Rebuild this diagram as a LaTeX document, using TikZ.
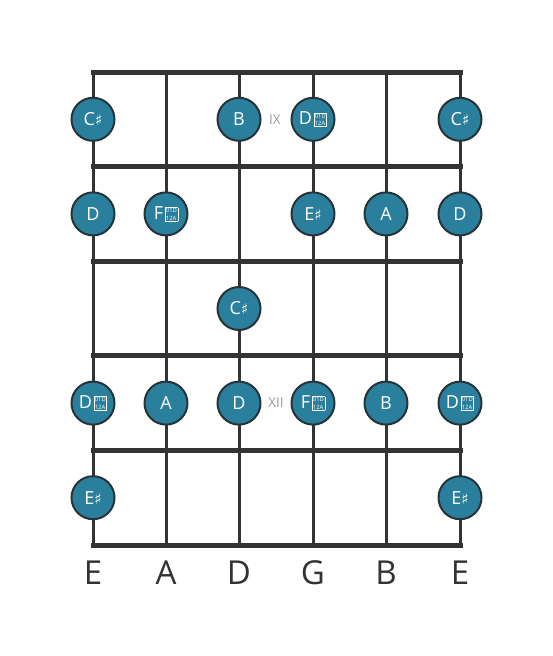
\documentclass[tikz,border=0pt]{standalone}
\usepackage{fontspec}
\setmainfont{Open Sans}
\newfontfamily\symfont{DejaVu Sans}
\definecolor{notefill}{HTML}{2A7F9C}
\definecolor{noteedge}{HTML}{26343A}
\definecolor{boardline}{HTML}{333333}
\newcommand{\shp}{{\symfont\fontsize{15}{15}\selectfont ♯}}
\newcommand{\dshp}{\hspace{1.5pt}\raisebox{-1pt}{\fboxsep=0.7pt\fboxrule=0.6pt\fbox{\fontsize{5.8}{7.4}\selectfont
    \vbox{\baselineskip=7.4pt\hbox{01D}\hbox{12A}}}}}

\begin{document}
\begin{tikzpicture}[x=1pt,y=-1pt,
    note/.style={circle,draw=noteedge,line width=2pt,fill=notefill,minimum size=43pt,
      inner sep=0pt,text=white,font=\fontsize{18}{18}\selectfont},
    fretno/.style={text=black!40,font=\fontsize{13.5}{13.5}\selectfont},
    tuning/.style={text=boardline,font=\fontsize{33}{33}\selectfont}]
    \useasboundingbox (0,0) rectangle (553,656);

    %strings
    \foreach \s/\x in {1/93,2/166,3/239,4/313,5/386,6/460}{
        \coordinate (top\s) at (\x,72);
        \coordinate (bot\s) at (\x,545);
        \draw[boardline,line width=3pt] (top\s) -- (bot\s);
    }
    %frets
    \foreach \f/\y in {0/72,1/166.6,2/261.2,3/355.8,4/450.4,5/545}{
        \coordinate (fl\f) at (93,\y);
        \coordinate (fr\f) at (460,\y);
        \draw[boardline,line width=5pt,line cap=rect] (fl\f) -- (fr\f);
    }

    %notes
    \foreach \r/\s/\txt in {1/1/C\shp,1/3/B,1/4/D\dshp,1/6/C\shp,
                            2/1/D,2/2/F\dshp,2/4/E\shp,2/5/A,2/6/D,
                            3/3/C\shp,
                            4/1/D\dshp,4/2/A,4/3/D,4/4/F\dshp,4/5/B,4/6/D\dshp,
                            5/1/E\shp,5/6/E\shp}
        \path (top\s) ++(0,{(\r-0.5)*94.6}) node[note] (n\r\s) {\txt};

    %fret numbers
    \node[fretno] (ix) at (275,119.3) {IX};
    \node[fretno] (xii) at (276,403.1) {XII};

    %tuning
    \foreach \s/\t in {1/E,2/A,3/D,4/G,5/B,6/E}
        \node[tuning] (tune\s) at ([yshift=-28pt]bot\s) {\t};
\end{tikzpicture}
\end{document}
